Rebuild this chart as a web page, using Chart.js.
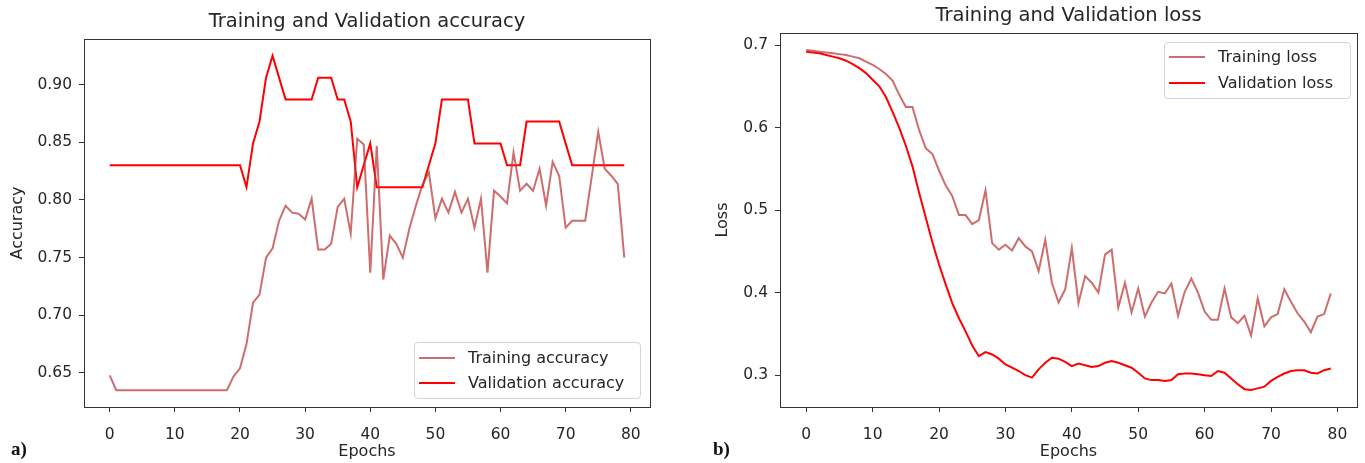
<!DOCTYPE html>
<html>
<head>
<meta charset="utf-8">
<script src="https://cdn.jsdelivr.net/npm/chart.js@4"></script>
<style>
  html, body { margin: 0; padding: 0; background: #fff; }
  body { width: 1365px; height: 463px; position: relative; overflow: hidden; font-family: "DejaVu Sans", sans-serif; }
  .box { position: absolute; top: 0; height: 463px; }
  .legend { position: absolute; border: 1px solid #d4d4d4; border-radius: 4px; background: rgba(255,255,255,0.85); font-size: 16px; color: #262626; }
  .legend .row { position: absolute; left: 0; height: 20px; line-height: 20px; white-space: nowrap; }
  .legend .swatch { position: absolute; left: 4px; top: 9px; width: 36px; height: 2px; }
  .legend .txt { position: absolute; left: 53px; top: 0; }
  .tag { position: absolute; font-family: "Liberation Serif", serif; font-weight: bold; font-size: 19px; color: #111; }
</style>
</head>
<body>
<div class="box" style="left:0;width:683px"><canvas id="accCanvas"></canvas></div>
<div class="box" style="left:683px;width:682px"><canvas id="lossCanvas"></canvas></div>

<div class="legend" style="left:414px;top:342px;width:225px;height:55px">
  <div class="row" style="top:5px"><div class="swatch" style="background:rgba(190,60,60,0.75)"></div><span class="txt">Training accuracy</span></div>
  <div class="row" style="top:30px"><div class="swatch" style="background:#ff0000"></div><span class="txt">Validation accuracy</span></div>
</div>
<div class="legend" style="left:1164px;top:42px;width:185px;height:55px">
  <div class="row" style="top:4px"><div class="swatch" style="background:rgba(190,60,60,0.75)"></div><span class="txt">Training loss</span></div>
  <div class="row" style="top:30px"><div class="swatch" style="background:#ff0000"></div><span class="txt">Validation loss</span></div>
</div>
<div class="tag" style="left:11px;top:438px">a)</div>
<div class="tag" style="left:713px;top:438px">b)</div>

<script>
// epochs and values
const epochs = [0,1,2,3,4,5,6,7,8,9,10,11,12,13,14,15,16,17,18,19,20,21,22,23,24,25,26,27,28,29,
  30,31,32,33,34,35,36,37,38,39,40,41,42,43,44,45,46,47,48,49,50,51,52,53,54,55,56,57,58,59,
  60,61,62,63,64,65,66,67,68,69,70,71,72,73,74,75,76,77,78,79];

const trainAcc = [0.648,0.635,0.635,0.635,0.635,0.635,0.635,0.635,0.635,0.635,
  0.635,0.635,0.635,0.635,0.635,0.635,0.635,0.635,0.635,0.647,
  0.654,0.675,0.711,0.718,0.750,0.758,0.782,0.795,0.789,0.788,
  0.783,0.801,0.757,0.757,0.762,0.794,0.801,0.771,0.853,0.848,
  0.737,0.847,0.731,0.769,0.762,0.750,0.775,0.795,0.813,0.824,
  0.784,0.801,0.789,0.807,0.789,0.801,0.776,0.801,0.737,0.808,
  0.803,0.797,0.841,0.808,0.814,0.808,0.827,0.795,0.833,0.821,
  0.776,0.782,0.782,0.782,0.820,0.859,0.827,0.821,0.814,0.750];

const valAcc = [0.830,0.830,0.830,0.830,0.830,0.830,0.830,0.830,0.830,0.830,
  0.830,0.830,0.830,0.830,0.830,0.830,0.830,0.830,0.830,0.830,
  0.830,0.811,0.849,0.868,0.906,0.925,0.906,0.887,0.887,0.887,
  0.887,0.887,0.906,0.906,0.906,0.887,0.887,0.868,0.811,0.830,
  0.849,0.811,0.811,0.811,0.811,0.811,0.811,0.811,0.811,0.830,
  0.849,0.887,0.887,0.887,0.887,0.887,0.849,0.849,0.849,0.849,
  0.849,0.830,0.830,0.830,0.868,0.868,0.868,0.868,0.868,0.868,
  0.849,0.830,0.830,0.830,0.830,0.830,0.830,0.830,0.830,0.830];

const trainLoss = [0.694,0.693,0.692,0.691,0.690,0.689,0.688,0.686,0.684,0.680,
  0.676,0.671,0.665,0.657,0.640,0.625,0.625,0.597,0.575,0.568,
  0.548,0.530,0.517,0.494,0.494,0.483,0.488,0.524,0.460,0.452,
  0.458,0.451,0.466,0.456,0.450,0.426,0.464,0.412,0.388,0.404,
  0.454,0.387,0.420,0.412,0.400,0.446,0.452,0.382,0.412,0.376,
  0.405,0.371,0.388,0.401,0.399,0.411,0.372,0.401,0.417,0.400,
  0.377,0.367,0.367,0.405,0.370,0.363,0.372,0.348,0.393,0.359,
  0.370,0.374,0.404,0.389,0.375,0.365,0.352,0.371,0.374,0.399];

const valLoss = [0.692,0.691,0.690,0.688,0.686,0.684,0.681,0.677,0.672,0.666,
  0.658,0.650,0.637,0.619,0.600,0.578,0.553,0.521,0.491,0.461,
  0.434,0.410,0.387,0.369,0.353,0.336,0.323,0.328,0.325,0.320,
  0.313,0.309,0.305,0.300,0.297,0.307,0.315,0.321,0.320,0.316,
  0.311,0.314,0.312,0.310,0.311,0.315,0.317,0.315,0.312,0.309,
  0.303,0.296,0.294,0.294,0.293,0.294,0.301,0.302,0.302,0.301,
  0.300,0.299,0.305,0.303,0.296,0.289,0.283,0.282,0.284,0.286,
  0.293,0.298,0.302,0.305,0.306,0.306,0.303,0.302,0.306,0.308];

const epochTicks = [0,10,20,30,40,50,60,70,80];
const accTicks = [0.65,0.70,0.75,0.80,0.85,0.90];
const lossTicks = [0.3,0.4,0.5,0.6,0.7];

const trainColor = 'rgba(190,60,60,0.75)';
const valColor = '#ff0000';
const textColor = '#262626';

// matplotlib style frame round the plot area
const framePlugin = {
  id: 'frame',
  afterDraw(chart) {
    const a = chart.chartArea;
    const ctx = chart.ctx;
    ctx.save();
    ctx.strokeStyle = '#333';
    ctx.lineWidth = 1;
    ctx.strokeRect(Math.round(a.left) + 0.5, Math.round(a.top) + 0.5, Math.round(a.right - a.left), Math.round(a.bottom - a.top));
    ctx.restore();
  }
};

function points(values) {
  return values.map((v, i) => ({x: epochs[i], y: v}));
}

function makeChart(canvasId, cfg) {
  return new Chart(document.getElementById(canvasId), {
    type: 'line',
    data: {
      datasets: [
        {label: cfg.names[0], data: points(cfg.train), borderColor: trainColor, borderWidth: 2, pointRadius: 0, tension: 0},
        {label: cfg.names[1], data: points(cfg.val), borderColor: valColor, borderWidth: 2, pointRadius: 0, tension: 0}
      ]
    },
    options: {
      responsive: true,
      maintainAspectRatio: false,
      animation: false,
      layout: {padding: {left: 0, right: cfg.padRight, top: 0, bottom: 0}},
      plugins: {
        legend: {display: false},
        tooltip: {enabled: false},
        title: {
          display: true,
          text: cfg.title,
          fullSize: false,
          color: textColor,
          font: {family: 'DejaVu Sans', size: 19.5, weight: 'normal'},
          padding: {top: cfg.titleTop, bottom: 5.3}
        }
      },
      scales: {
        x: {
          type: 'linear',
          min: -3.95,
          max: 82.95,
          afterBuildTicks: axis => { axis.ticks = epochTicks.map(v => ({value: v})); },
          afterFit: axis => { axis.height = 56; },
          grid: {display: true, drawOnChartArea: false, drawTicks: true, tickLength: 5, color: '#333'},
          border: {display: true, color: '#333'},
          ticks: {color: textColor, font: {family: 'DejaVu Sans', size: 15.5}, padding: 14, maxRotation: 0},
          title: {display: true, text: 'Epochs', color: textColor, font: {family: 'DejaVu Sans', size: 16}, padding: {top: 0, bottom: 2}}
        },
        y: {
          type: 'linear',
          min: cfg.yMin,
          max: cfg.yMax,
          afterBuildTicks: axis => { axis.ticks = cfg.yTicks.map(v => ({value: v})); },
          afterFit: axis => { axis.width = cfg.yWidth; },
          grid: {display: true, drawOnChartArea: false, drawTicks: true, tickLength: 5, color: '#333'},
          border: {display: true, color: '#333'},
          ticks: {color: textColor, font: {family: 'DejaVu Sans', size: 15.5}, padding: 7, callback: v => v.toFixed(cfg.decimals)},
          title: {display: true, text: cfg.yLabel, color: textColor, font: {family: 'DejaVu Sans', size: 16}, padding: {top: cfg.yTitlePad, bottom: 0}}
        }
      }
    },
    plugins: [framePlugin]
  });
}

makeChart('accCanvas', {
  names: ['Training accuracy', 'Validation accuracy'],
  train: trainAcc, val: valAcc,
  title: 'Training and Validation accuracy',
  titleTop: 10.3,
  padRight: 33,
  yMin: 0.6205, yMax: 0.9395,
  yTicks: accTicks, decimals: 2,
  yWidth: 84, yLabel: 'Accuracy', yTitlePad: 8
});

makeChart('lossCanvas', {
  names: ['Training loss', 'Validation loss'],
  train: trainLoss, val: valLoss,
  title: 'Training and Validation loss',
  titleTop: 4.3,
  padRight: 8,
  yMin: 0.2614, yMax: 0.7146,
  yTicks: lossTicks, decimals: 1,
  yWidth: 97, yLabel: 'Loss', yTitlePad: 30
});
</script>
</body>
</html>
